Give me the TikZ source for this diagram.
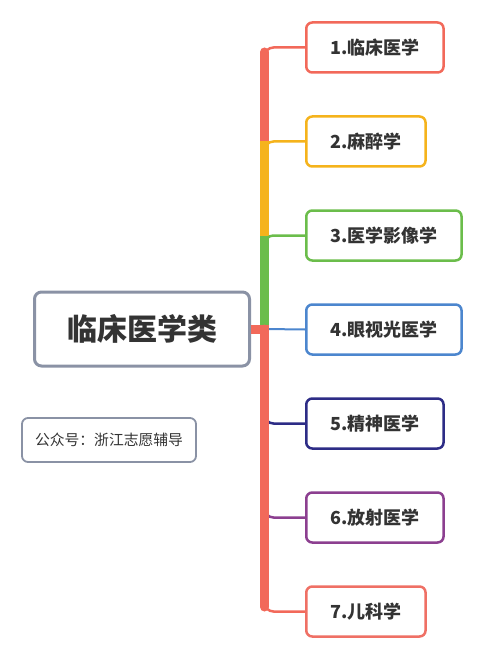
\documentclass[tikz,border=0pt]{standalone}
\usepackage{fontspec}
\setmainfont{Noto Sans CJK SC}
\usetikzlibrary{positioning}
\definecolor{coral}{HTML}{F2695A}
\definecolor{amber}{HTML}{F5B31C}
\definecolor{leaf}{HTML}{6BBD4B}
\definecolor{sky}{HTML}{4C86CE}
\definecolor{navy}{HTML}{2D2C86}
\definecolor{plum}{HTML}{8C3F90}
\definecolor{salmon}{HTML}{EF7065}
\definecolor{slate}{HTML}{8A92A5}
\definecolor{ink}{HTML}{333333}

\begin{document}
\begin{tikzpicture}[x=1pt,y=-1pt,node distance=94pt,on grid]
\useasboundingbox (0,0) rectangle (500,660);
\tikzset{topic/.style={draw,line width=2.5pt,rounded corners=6pt,fill=white,
    minimum height=50pt,inner xsep=24pt,text=ink,
    font=\bfseries\fontsize{18}{20}\selectfont}}
\tikzset{trunk/.style={line width=9pt}}
\tikzset{trunktip/.style={line width=9pt,line cap=round}}
\tikzset{twig/.style={line width=2.5pt,rounded corners=9pt}}

  \node[draw=slate,line width=3pt,rounded corners=7pt,minimum width=215pt,
        minimum height=74pt,text=ink,font=\bfseries\fontsize{30}{32}\selectfont]
        (root) at (142,329) {临床医学类};
  \node[draw=slate,line width=1.8pt,rounded corners=6pt,minimum width=174pt,
        minimum height=44pt,text=ink,font=\fontsize{14.8}{16}\selectfont]
        (tag) at (109,440) {公众号：浙江志愿辅导};

  \node[topic,draw=coral,anchor=west] (m1) at (305,47.5) {1.临床医学};
  \node[topic,draw=amber] (m2) [below=of m1.west,anchor=west] {2.麻醉学};
  \node[topic,draw=leaf]  (m3) [below=of m2.west,anchor=west] {3.医学影像学};
  \node[topic,draw=sky]   (m4) [below=of m3.west,anchor=west] {4.眼视光医学};
  \node[topic,draw=navy]  (m5) [below=of m4.west,anchor=west] {5.精神医学};
  \node[topic,draw=plum]  (m6) [below=of m5.west,anchor=west] {6.放射医学};
  \node[topic,draw=salmon](m7) [below=of m6.west,anchor=west] {7.儿科学};

  \coordinate (hub) at (264.5,329);

  % upper branches, later ones cover the earlier
  \draw[trunktip,coral] (hub) -- ([yshift=-4.5pt]hub |- m1.west);
  \draw[twig,coral]  (hub) |- (m1.west);
  \draw[trunk,amber] (hub) -- (hub |- m2.west);
  \draw[twig,amber]  (hub) |- (m2.west);
  \draw[trunk,leaf]  (hub) -- (hub |- m3.west);
  \draw[twig,leaf]   (hub) |- (m3.west);

  % lower branches
  \draw[line width=2pt,sky] (hub) -- (m4.west);
  \draw[twig,navy] (hub) |- (m5.west);
  \draw[twig,plum] (hub) |- (m6.west);
  \draw[trunktip,coral] (hub) -- ([yshift=4.5pt]hub |- m7.west);
  \draw[twig,coral]  (hub) |- (m7.west);

  \draw[trunk,coral] (root.east) -- ([xshift=4pt]hub);
\end{tikzpicture}
\end{document}
